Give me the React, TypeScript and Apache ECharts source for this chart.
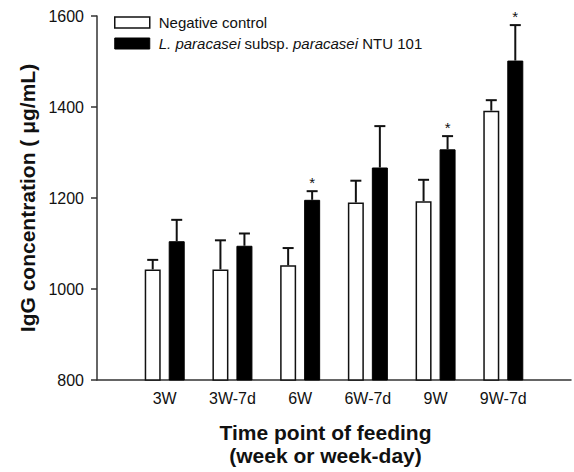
import React, { useEffect, useRef } from 'react';
import * as echarts from 'echarts';

const categories = ['3W', '3W-7d', '6W', '6W-7d', '9W', '9W-7d'];
const controlMeans = [1043, 1043, 1052, 1190, 1193, 1392];
const controlSD = [21, 64, 38, 48, 47, 23];
const ntuMeans = [1105, 1095, 1196, 1267, 1307, 1502];
const ntuSD = [47, 27, 19, 91, 29, 78];
const controlSignificant = [false, false, false, false, false, false];
const ntuSignificant = [false, false, true, false, true, true];
const yMin = 800;
const yMax = 1600;
const yStep = 200;

const CONTROL_NAME = 'Negative control';
const NTU_NAME = 'L. paracasei subsp. paracasei NTU 101';

const FONT = "'Liberation Sans', Arial, Helvetica, sans-serif";
const BAR_W = 16;
const BAR_GAP = 8;

function errorSeries(means: number[], sds: number[], sig: boolean[], side: number) {
  const off = side * (BAR_W + BAR_GAP) / 2;
  return {
    type: 'custom',
    silent: true,
    z: 5,
    encode: { x: 0, y: [1, 2] },
    data: means.map((m, i) => [i + 1, m, m + sds[i], sig[i] ? 1 : 0]),
    renderItem: (_p: any, api: any) => {
      const idx = api.value(0);
      const m = api.value(1);
      const u = api.value(2);
      const s = api.value(3);
      const p0 = api.coord([idx, m]);
      const p1 = api.coord([idx, u]);
      const cx = p0[0] + off;
      const st = { stroke: '#111', lineWidth: 2 };
      const children: any[] = [
        { type: 'line', shape: { x1: cx, y1: p0[1], x2: cx, y2: p1[1] }, style: st },
        { type: 'line', shape: { x1: cx - 5.5, y1: p1[1], x2: cx + 5.5, y2: p1[1] }, style: st },
      ];
      if (s) {
        children.push({
          type: 'text',
          style: {
            text: '*', x: cx, y: p1[1] - 1, align: 'center', verticalAlign: 'bottom',
            fontSize: 15, fontFamily: FONT, fill: '#111',
          },
        });
      }
      return { type: 'group', children };
    },
  };
}

export default function App() {
  const ref = useRef<HTMLDivElement>(null);
  useEffect(() => {
    if (!ref.current) return;
    const chart = echarts.init(ref.current, undefined, { renderer: 'svg' });
    const axisCats = ['', ...categories, ''];
    chart.setOption({
      animation: false,
      backgroundColor: '#ffffff',
      textStyle: { fontFamily: FONT },
      grid: { left: 97, top: 16, right: 2, bottom: 82.5, containLabel: false },
      legend: {
        orient: 'vertical',
        left: 109,
        top: 10,
        itemWidth: 35,
        itemHeight: 11,
        itemGap: 6,
        selectedMode: false,
        data: [
          { name: CONTROL_NAME, icon: 'rect', itemStyle: { color: '#fff', borderColor: '#111', borderWidth: 1.5 } },
          { name: NTU_NAME, icon: 'rect', itemStyle: { color: '#000', borderColor: '#000', borderWidth: 1 } },
        ],
        formatter: (n: string) => (n === NTU_NAME ? '{i|L. paracasei} subsp. {i|paracasei} NTU 101' : n),
        textStyle: {
          fontSize: 15,
          color: '#111',
          fontFamily: FONT,
          padding: [0, 0, 0, 4],
          rich: { i: { fontStyle: 'italic', fontSize: 15, color: '#111', fontFamily: FONT } },
        },
      },
      xAxis: {
        type: 'category',
        data: axisCats,
        boundaryGap: false,
        axisLine: { show: true, lineStyle: { color: '#333', width: 1.5 } },
        axisTick: { show: false },
        axisLabel: { fontSize: 16, color: '#111', margin: 10, fontFamily: FONT, interval: 0 },
        splitLine: { show: false },
        name: 'Time point of feeding\n(week or week-day)',
        nameLocation: 'middle',
        nameGap: 41,
        nameTextStyle: {
          fontSize: 21, fontWeight: 'bold', color: '#111', fontFamily: FONT, lineHeight: 23,
          padding: [0, 17, 0, 0],
        },
      },
      yAxis: {
        type: 'value',
        min: yMin,
        max: yMax,
        interval: yStep,
        axisLine: { show: true, lineStyle: { color: '#333', width: 1.5 } },
        axisTick: { show: true, inside: false, length: 6, lineStyle: { color: '#333', width: 1.5 } },
        axisLabel: {
          fontSize: 16, color: '#111', margin: 13, fontFamily: FONT,
          formatter: (v: number) => String(v),
        },
        splitLine: { show: false },
        name: 'IgG concentration ( μg/mL)',
        nameLocation: 'middle',
        nameRotate: 90,
        nameGap: 59,
        nameTextStyle: { fontSize: 21, fontWeight: 'bold', color: '#111', fontFamily: FONT },
      },
      series: [
        {
          name: CONTROL_NAME,
          type: 'bar',
          barWidth: BAR_W,
          barGap: `${(BAR_GAP / BAR_W) * 100}%`,
          data: ['-', ...controlMeans, '-'],
          itemStyle: { color: '#fff', borderColor: '#111', borderWidth: 1.5 },
        },
        {
          name: NTU_NAME,
          type: 'bar',
          barWidth: BAR_W,
          barGap: `${(BAR_GAP / BAR_W) * 100}%`,
          data: ['-', ...ntuMeans, '-'],
          itemStyle: { color: '#000', borderColor: '#000', borderWidth: 1 },
        },
        errorSeries(controlMeans, controlSD, controlSignificant, -1),
        errorSeries(ntuMeans, ntuSD, ntuSignificant, 1),
      ],
    });
    return () => chart.dispose();
  }, []);
  return (
    <div
      ref={ref}
      style={{ position: 'fixed', left: 0, top: 0, width: 574, height: 472, background: '#fff' }}
    />
  );
}
